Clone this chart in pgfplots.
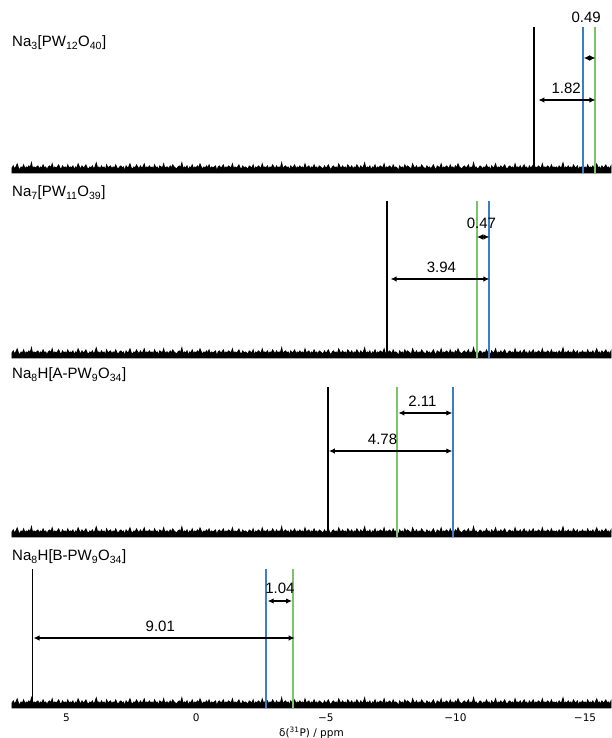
\documentclass[border=0pt]{standalone}
\usepackage{pgfplots}
\pgfplotsset{compat=1.18}
\usepackage{pgfplotstable}
\usepackage{fontspec}
\setmainfont{Liberation Sans}
\newfontfamily\dejavu{DejaVu Sans}
\usetikzlibrary{arrows.meta}
\definecolor{pblue}{RGB}{60,125,200}
\definecolor{pgreen}{RGB}{125,195,105}

\pgfplotstableread[row sep=\\]{
x y\\
7.10 5\\ 7.05 7\\ 7.00 4\\ 6.95 6\\ 6.90 9\\ 6.85 5\\ 6.80 3\\ 6.75 6\\ 6.70 5\\ 6.65 8\\ 6.60 4\\ 6.55 6\\ 6.50 5\\ 6.45 7\\ 6.40 5\\ 6.35 10\\ 6.30 4\\ 6.25 6\\ 6.20 5\\ 6.15 6\\
6.10 7\\ 6.05 4\\ 6.00 6\\ 5.95 5\\ 5.90 8\\ 5.85 5\\ 5.80 6\\ 5.75 3\\ 5.70 6\\ 5.65 7\\ 5.60 5\\ 5.55 9\\ 5.50 4\\ 5.45 6\\ 5.40 5\\ 5.35 6\\ 5.30 8\\ 5.25 5\\ 5.20 4\\ 5.15 7\\
5.10 5\\ 5.05 6\\ 5.00 4\\ 4.95 8\\ 4.90 5\\ 4.85 6\\ 4.80 5\\ 4.75 7\\ 4.70 3\\ 4.65 6\\ 4.60 5\\ 4.55 9\\ 4.50 6\\ 4.45 4\\ 4.40 7\\ 4.35 5\\ 4.30 6\\ 4.25 8\\ 4.20 5\\ 4.15 4\\
4.10 6\\ 4.05 5\\ 4.00 7\\ 3.95 4\\ 3.90 6\\ 3.85 10\\ 3.80 5\\ 3.75 6\\ 3.70 4\\ 3.65 7\\ 3.60 5\\ 3.55 6\\ 3.50 3\\ 3.45 8\\ 3.40 5\\ 3.35 6\\ 3.30 7\\ 3.25 4\\ 3.20 6\\ 3.15 5\\
3.10 8\\ 3.05 5\\ 3.00 4\\ 2.95 6\\ 2.90 7\\ 2.85 5\\ 2.80 6\\ 2.75 2\\ 2.70 7\\ 2.65 5\\ 2.60 6\\ 2.55 9\\ 2.50 5\\ 2.45 4\\ 2.40 6\\ 2.35 5\\ 2.30 8\\ 2.25 6\\ 2.20 4\\ 2.15 7\\
2.10 5\\ 2.05 6\\ 2.00 9\\ 1.95 4\\ 1.90 6\\ 1.85 5\\ 1.80 7\\ 1.75 5\\ 1.70 6\\ 1.65 4\\ 1.60 8\\ 1.55 5\\ 1.50 6\\ 1.45 3\\ 1.40 7\\ 1.35 6\\ 1.30 5\\ 1.25 9\\ 1.20 4\\ 1.15 6\\
1.10 6\\ 1.05 4\\ 1.00 7\\ 0.95 5\\ 0.90 8\\ 0.85 6\\ 0.80 5\\ 0.75 4\\ 0.70 6\\ 0.65 7\\ 0.60 5\\ 0.55 10\\ 0.50 4\\ 0.45 6\\ 0.40 5\\ 0.35 7\\ 0.30 3\\ 0.25 6\\ 0.20 5\\ 0.15 8\\
0.10 4\\ 0.05 6\\ 0.00 5\\ -0.05 7\\ -0.10 5\\ -0.15 9\\ -0.20 6\\ -0.25 4\\ -0.30 6\\ -0.35 5\\ -0.40 7\\ -0.45 5\\ -0.50 8\\ -0.55 4\\ -0.60 6\\ -0.65 5\\ -0.70 6\\ -0.75 7\\ -0.80 2\\ -0.85 6\\
-0.90 7\\ -0.95 5\\ -1.00 6\\ -1.05 8\\ -1.10 4\\ -1.15 6\\ -1.20 5\\ -1.25 7\\ -1.30 6\\ -1.35 5\\ -1.40 9\\ -1.45 4\\ -1.50 6\\ -1.55 5\\ -1.60 6\\ -1.65 8\\ -1.70 5\\ -1.75 4\\ -1.80 7\\ -1.85 5\\
-1.90 6\\ -1.95 5\\ -2.00 4\\ -2.05 7\\ -2.10 6\\ -2.15 5\\ -2.20 8\\ -2.25 3\\ -2.30 6\\ -2.35 5\\ -2.40 7\\ -2.45 6\\ -2.50 4\\ -2.55 9\\ -2.60 5\\ -2.65 6\\ -2.70 5\\ -2.75 7\\ -2.80 4\\ -2.85 6\\
-2.90 5\\ -2.95 8\\ -3.00 6\\ -3.05 4\\ -3.10 7\\ -3.15 5\\ -3.20 6\\ -3.25 5\\ -3.30 10\\ -3.35 4\\ -3.40 6\\ -3.45 7\\ -3.50 5\\ -3.55 6\\ -3.60 3\\ -3.65 7\\ -3.70 5\\ -3.75 6\\ -3.80 8\\ -3.85 4\\
-3.90 6\\ -3.95 5\\ -4.00 7\\ -4.05 5\\ -4.10 6\\ -4.15 4\\ -4.20 9\\ -4.25 5\\ -4.30 6\\ -4.35 7\\ -4.40 4\\ -4.45 6\\ -4.50 5\\ -4.55 8\\ -4.60 5\\ -4.65 6\\ -4.70 4\\ -4.75 7\\ -4.80 6\\ -4.85 5\\
-4.90 4\\ -4.95 7\\ -5.00 5\\ -5.05 6\\ -5.10 8\\ -5.15 5\\ -5.20 3\\ -5.25 6\\ -5.30 7\\ -5.35 5\\ -5.40 6\\ -5.45 4\\ -5.50 9\\ -5.55 6\\ -5.60 5\\ -5.65 7\\ -5.70 5\\ -5.75 6\\ -5.80 4\\ -5.85 8\\
-5.90 6\\ -5.95 5\\ -6.00 7\\ -6.05 4\\ -6.10 6\\ -6.15 5\\ -6.20 8\\ -6.25 6\\ -6.30 4\\ -6.35 7\\ -6.40 5\\ -6.45 6\\ -6.50 10\\ -6.55 4\\ -6.60 6\\ -6.65 5\\ -6.70 7\\ -6.75 3\\ -6.80 6\\ -6.85 5\\
-6.90 8\\ -6.95 4\\ -7.00 6\\ -7.05 5\\ -7.10 7\\ -7.15 6\\ -7.20 5\\ -7.25 9\\ -7.30 4\\ -7.35 6\\ -7.40 5\\ -7.45 7\\ -7.50 6\\ -7.55 4\\ -7.60 8\\ -7.65 5\\ -7.70 6\\ -7.75 5\\ -7.80 2\\ -7.85 7\\
-7.90 5\\ -7.95 6\\ -8.00 4\\ -8.05 8\\ -8.10 5\\ -8.15 7\\ -8.20 6\\ -8.25 5\\ -8.30 4\\ -8.35 9\\ -8.40 6\\ -8.45 5\\ -8.50 7\\ -8.55 4\\ -8.60 6\\ -8.65 5\\ -8.70 8\\ -8.75 6\\ -8.80 5\\ -8.85 4\\
-8.90 7\\ -8.95 5\\ -9.00 6\\ -9.05 4\\ -9.10 6\\ -9.15 8\\ -9.20 5\\ -9.25 3\\ -9.30 7\\ -9.35 6\\ -9.40 5\\ -9.45 9\\ -9.50 4\\ -9.55 6\\ -9.60 5\\ -9.65 7\\ -9.70 6\\ -9.75 4\\ -9.80 8\\ -9.85 5\\
-9.90 6\\ -9.95 4\\ -10.00 7\\ -10.05 5\\ -10.10 9\\ -10.15 6\\ -10.20 5\\ -10.25 4\\ -10.30 6\\ -10.35 7\\ -10.40 5\\ -10.45 6\\ -10.50 8\\ -10.55 4\\ -10.60 6\\ -10.65 5\\ -10.70 10\\ -10.75 5\\ -10.80 6\\ -10.85 4\\
-10.90 5\\ -10.95 7\\ -11.00 6\\ -11.05 4\\ -11.10 6\\ -11.15 5\\ -11.20 8\\ -11.25 5\\ -11.30 6\\ -11.35 3\\ -11.40 7\\ -11.45 5\\ -11.50 6\\ -11.55 9\\ -11.60 4\\ -11.65 6\\ -11.70 5\\ -11.75 7\\ -11.80 5\\ -11.85 6\\
-11.90 8\\ -11.95 5\\ -12.00 4\\ -12.05 6\\ -12.10 7\\ -12.15 5\\ -12.20 6\\ -12.25 4\\ -12.30 9\\ -12.35 5\\ -12.40 6\\ -12.45 5\\ -12.50 7\\ -12.55 4\\ -12.60 6\\ -12.65 8\\ -12.70 5\\ -12.75 6\\ -12.80 3\\ -12.85 7\\
-12.90 5\\ -12.95 6\\ -13.00 8\\ -13.05 4\\ -13.10 6\\ -13.15 5\\ -13.20 7\\ -13.25 6\\ -13.30 4\\ -13.35 9\\ -13.40 5\\ -13.45 6\\ -13.50 5\\ -13.55 7\\ -13.60 6\\ -13.65 4\\ -13.70 8\\ -13.75 5\\ -13.80 6\\ -13.85 5\\
-13.90 6\\ -13.95 4\\ -14.00 7\\ -14.05 5\\ -14.10 6\\ -14.15 10\\ -14.20 4\\ -14.25 6\\ -14.30 5\\ -14.35 7\\ -14.40 5\\ -14.45 6\\ -14.50 4\\ -14.55 8\\ -14.60 6\\ -14.65 5\\ -14.70 7\\ -14.75 3\\ -14.80 6\\ -14.85 5\\
-14.90 7\\ -14.95 5\\ -15.00 6\\ -15.05 4\\ -15.10 8\\ -15.15 5\\ -15.20 6\\ -15.25 5\\ -15.30 7\\ -15.35 4\\ -15.40 6\\ -15.45 9\\ -15.50 5\\ -15.55 6\\ -15.60 4\\ -15.65 7\\ -15.70 5\\ -15.75 6\\ -15.80 8\\ -15.85 5\\
-15.90 6\\ -15.95 4\\ -16.00 7\\
}\noise

\pgfplotsset{
  panel/.style={scale only axis, width=599pt, height=170pt,
    xmin=-16.0, xmax=7.1, ymin=0, ymax=170, x dir=reverse, clip=false,
    axis line style={draw=none}, ytick=\empty, xtick=\empty,
    major tick length=0pt},
  noiseline/.style={fill=black, draw=black, line width=0.9pt, mark=none},
  pk/.style={line width=1.8pt, mark=none},
  pkc/.style={line width=2pt, mark=none},
}
\tikzset{
  dim/.style={{Latex[length=6pt,width=5.5pt]}-{Latex[length=6pt,width=5.5pt]}, line width=1.1pt},
  num/.style={font=\fontsize{15}{18}\selectfont, inner sep=0pt},
  lbl/.style={anchor=west, inner sep=0pt, font=\fontsize{15}{18}\selectfont},
}

\begin{document}
\begin{tikzpicture}
\useasboundingbox (0,0) rectangle (611pt,738pt);

% Panel 1
\begin{axis}[panel, at={(12pt,565pt)}]
\addplot[noiseline] table[x=x,y=y]{\noise} \closedcycle;
\addplot[pk, black] coordinates {(-13.04,0) (-13.04,146)};
\addplot[pkc, pblue] coordinates {(-14.92,0) (-14.92,146)};
\addplot[pkc, pgreen] coordinates {(-15.38,0) (-15.38,146)};
\draw[dim] (axis cs:-14.95,115) -- (axis cs:-15.40,115);
\node[num] at (axis cs:-15.04,156) {0.49};
\draw[dim] (axis cs:-13.20,73) -- (axis cs:-15.40,73);
\node[num] at (axis cs:-14.27,85) {1.82};
\node[lbl] at (axis cs:7.1,130) {Na\textsubscript{3}[PW\textsubscript{12}O\textsubscript{40}]};
\end{axis}

% Panel 2
\begin{axis}[panel, at={(12pt,380pt)}]
\addplot[noiseline] table[x=x,y=y]{\noise} \closedcycle;
\addplot[pk, black] coordinates {(-7.36,0) (-7.36,157)};
\addplot[pkc, pgreen] coordinates {(-10.83,0) (-10.83,157)};
\addplot[pkc, pblue] coordinates {(-11.31,0) (-11.31,157)};
\draw[dim] (axis cs:-10.83,121) -- (axis cs:-11.31,121);
\node[num] at (axis cs:-11.0,135) {0.47};
\draw[dim] (axis cs:-7.50,79) -- (axis cs:-11.31,79);
\node[num] at (axis cs:-9.46,91) {3.94};
\node[lbl] at (axis cs:7.1,165) {Na\textsubscript{7}[PW\textsubscript{11}O\textsubscript{39}]};
\end{axis}

% Panel 3
\begin{axis}[panel, at={(12pt,201pt)}]
\addplot[noiseline] table[x=x,y=y]{\noise} \closedcycle;
\addplot[pk, black] coordinates {(-5.09,0) (-5.09,150)};
\addplot[pkc, pgreen] coordinates {(-7.76,0) (-7.76,150)};
\addplot[pkc, pblue] coordinates {(-9.90,0) (-9.90,150)};
\draw[dim] (axis cs:-7.80,124) -- (axis cs:-9.88,124);
\node[num] at (axis cs:-8.73,136) {2.11};
\draw[dim] (axis cs:-5.12,86) -- (axis cs:-9.88,86);
\node[num] at (axis cs:-7.19,98) {4.78};
\node[lbl] at (axis cs:7.1,162) {Na\textsubscript{8}H[A-PW\textsubscript{9}O\textsubscript{34}]};
\end{axis}

% Panel 4
\begin{axis}[panel, at={(12pt,30pt)},
  xtick={5,0,-5,-10,-15}, xticklabels={5,0,−5,−10,−15},
  xticklabel style={font=\dejavu\fontsize{10.5}{12}\selectfont, anchor=center, yshift=-10pt},
  xlabel={δ(\textsuperscript{31}P) / ppm},
  xlabel style={font=\dejavu\fontsize{10.5}{12}\selectfont, at={(axis description cs:0.5,0)}, anchor=center, yshift=-25pt}]
\addplot[noiseline] table[x=x,y=y]{\noise} \closedcycle;
\addplot[pk, black] coordinates {(6.31,0) (6.31,139)};
\addplot[pkc, pblue] coordinates {(-2.70,0) (-2.70,139)};
\addplot[pkc, pgreen] coordinates {(-3.74,0) (-3.74,139)};
\draw[dim] (axis cs:-2.76,107) -- (axis cs:-3.70,107);
\node[num] at (axis cs:-3.23,120) {1.04};
\draw[dim] (axis cs:6.27,70) -- (axis cs:-3.80,70);
\node[num] at (axis cs:1.38,82) {9.01};
\node[lbl] at (axis cs:7.1,151) {Na\textsubscript{8}H[B-PW\textsubscript{9}O\textsubscript{34}]};
\end{axis}
\end{tikzpicture}
\end{document}
